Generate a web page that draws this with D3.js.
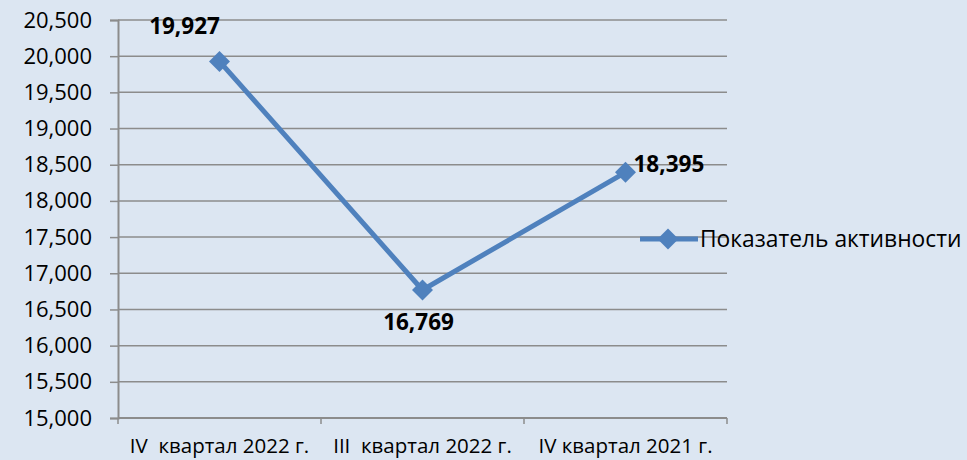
<!DOCTYPE html>
<html>
<head>
<meta charset="utf-8">
<script src="https://cdn.jsdelivr.net/npm/d3@7"></script>
<style>
  body { margin: 0; background: #dce6f2; }
  svg { display: block; font-family: "Open Sans", sans-serif; }
</style>
</head>
<body>
<div id="chart"></div>
<script>
const categories = ["IV  квартал 2022 г.", "III  квартал 2022 г.", "IV квартал 2021 г."];
const values = [19927, 16769, 18395];
const valueLabels = ["19,927", "16,769", "18,395"];
const seriesName = "Показатель активности";
const yTicks = d3.range(15000, 20501, 500);

(function () {
  const w = 967, h = 460;
  const left = 118, right = 727, top = 20, bottom = 418;

  const svg = d3.select("#chart").append("svg")
    .attr("width", w).attr("height", h);

  svg.append("rect").attr("width", w).attr("height", h).attr("fill", "#dce6f2");

  const x = d3.scaleBand().domain(categories).range([left, right]);
  const y = d3.scaleLinear().domain([15000, 20500]).range([bottom, top]);

  // gridlines
  svg.append("g").selectAll("line")
    .data(yTicks.slice(1))
    .enter().append("line")
    .attr("x1", left).attr("x2", right)
    .attr("y1", d => y(d)).attr("y2", d => y(d))
    .attr("stroke", "#8c8c8c").attr("stroke-width", 1.5);

  const yAxis = d3.axisLeft(y).tickValues(yTicks)
    .tickFormat(d3.format(",")).tickSize(8).tickPadding(18);
  const gy = svg.append("g").attr("transform", "translate(" + left + ",0)").call(yAxis);
  gy.select(".domain").attr("stroke", "#8c8c8c").attr("stroke-width", 2);
  gy.selectAll(".tick line").attr("stroke", "#8c8c8c").attr("stroke-width", 1.5);
  gy.selectAll("text").attr("font-size", 22).attr("fill", "#000")
    .attr("font-family", "Open Sans, sans-serif");

  // x axis with ticks at band boundaries
  const gx = svg.append("g").attr("transform", "translate(0," + bottom + ")");
  gx.append("line").attr("x1", left).attr("x2", right)
    .attr("stroke", "#8c8c8c").attr("stroke-width", 2);
  const bounds = categories.map(c => x(c)).concat([right]);
  gx.selectAll(".tk").data(bounds).enter().append("line")
    .attr("x1", d => d).attr("x2", d => d).attr("y1", 0).attr("y2", 6)
    .attr("stroke", "#8c8c8c").attr("stroke-width", 1.5);
  gx.selectAll("text").data(categories).enter().append("text")
    .attr("x", d => x(d) + x.bandwidth() / 2).attr("y", 35)
    .attr("text-anchor", "middle").attr("font-size", 20.5).attr("fill", "#000")
    .attr("xml:space", "preserve")
    .text(d => d);

  const pts = categories.map((c, i) => [x(c) + x.bandwidth() / 2, y(values[i])]);

  svg.append("path").datum(pts)
    .attr("d", d3.line())
    .attr("fill", "none").attr("stroke", "#4f81bd").attr("stroke-width", 5)
    .attr("stroke-linejoin", "round");

  const diamond = d3.symbol().type(d3.symbolDiamond2).size(280);
  svg.selectAll(".mk").data(pts).enter().append("path")
    .attr("d", diamond)
    .attr("transform", d => "translate(" + d[0] + "," + d[1] + ")")
    .attr("fill", "#4f81bd");

  // data labels
  const labelPos = [
    { dx: -35, dy: -27, anchor: "middle" },
    { dx: -4, dy: 40, anchor: "middle" },
    { dx: 8, dy: 0, anchor: "start" }
  ];
  svg.selectAll(".lbl").data(pts).enter().append("text")
    .attr("x", (d, i) => d[0] + labelPos[i].dx)
    .attr("y", (d, i) => d[1] + labelPos[i].dy)
    .attr("text-anchor", (d, i) => labelPos[i].anchor)
    .attr("font-size", 22.5).attr("font-weight", "bold").attr("fill", "#000")
    .text((d, i) => valueLabels[i]);

  // legend
  const lg = svg.append("g").attr("transform", "translate(640,239)");
  lg.append("line").attr("x1", 0).attr("x2", 58)
    .attr("stroke", "#4f81bd").attr("stroke-width", 5);
  lg.append("path").attr("d", diamond).attr("transform", "translate(28,0)").attr("fill", "#4f81bd");
  lg.append("text").attr("x", 60).attr("y", 8).attr("font-size", 22.8).attr("fill", "#000")
    .text(seriesName);
})();
</script>
</body>
</html>
